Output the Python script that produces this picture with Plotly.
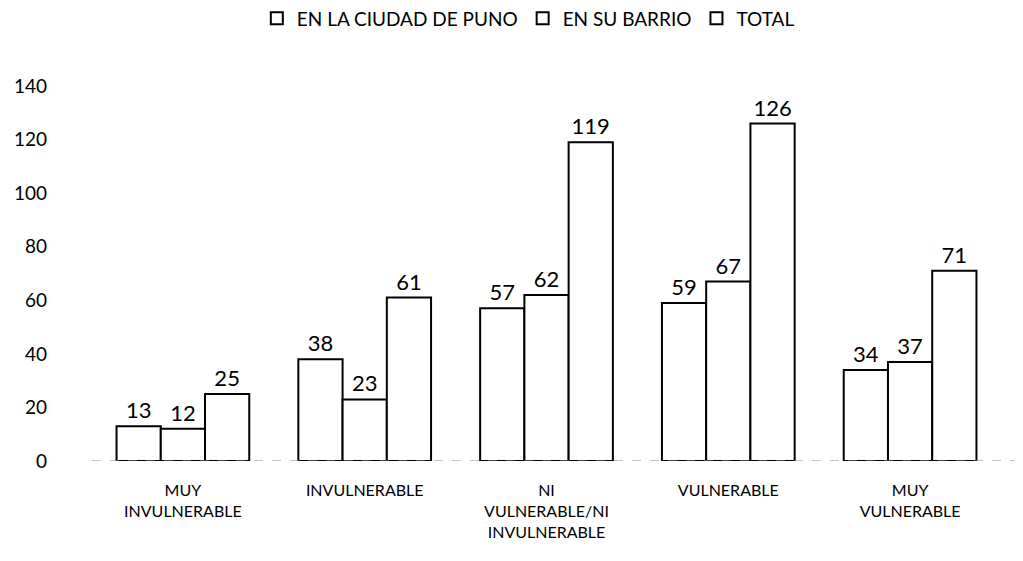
import plotly.graph_objects as go

# Datos
categorias = [
    "MUY<br>INVULNERABLE",
    "INVULNERABLE",
    "NI<br>VULNERABLE/NI<br>INVULNERABLE",
    "VULNERABLE",
    "MUY<br>VULNERABLE",
]
en_ciudad_puno = [13, 38, 57, 59, 34]
en_su_barrio = [12, 23, 62, 67, 37]
total = [25, 61, 119, 126, 71]

series = [
    ("EN LA CIUDAD DE PUNO", en_ciudad_puno),
    ("EN SU BARRIO", en_su_barrio),
    ("TOTAL", total),
]

FONT = "Lato, Carlito, 'Open Sans', sans-serif"

fig = go.Figure()
for nombre, valores in series:
    fig.add_trace(go.Bar(
        x=categorias, y=valores, name=nombre,
        marker=dict(color="white", line=dict(color="black", width=2)),
        text=valores, textposition="outside", cliponaxis=False,
        textfont=dict(size=22, color="black", family=FONT),
    ))

# línea base discontinua
fig.add_shape(type="line", xref="paper", yref="y", x0=0, x1=1.02, y0=0, y1=0,
              line=dict(color="#888888", width=1, dash="dash"))

# la página añade 8 px de margen al cuerpo: márgenes compensados
fig.update_layout(
    width=1023, height=561,
    paper_bgcolor="white", plot_bgcolor="white",
    font=dict(family=FONT, color="black"),
    barmode="group", bargap=0.27, bargroupgap=0,
    margin=dict(l=84, r=30, t=78, b=108, autoexpand=False),
    showlegend=True,
    legend=dict(orientation="h", x=0.48, xanchor="center", y=1.18,
                yanchor="middle", font=dict(size=19), itemwidth=30,
                traceorder="normal"),
    xaxis=dict(showline=False, showgrid=False, ticks="", automargin=False,
               tickfont=dict(size=16), ticklabelstandoff=18),
    yaxis=dict(range=[0, 140], dtick=20, showgrid=False, showline=False,
               zeroline=False, ticks="", tickfont=dict(size=19),
               automargin=False, ticklabelstandoff=44),
)

fig.write_html("out.html")
